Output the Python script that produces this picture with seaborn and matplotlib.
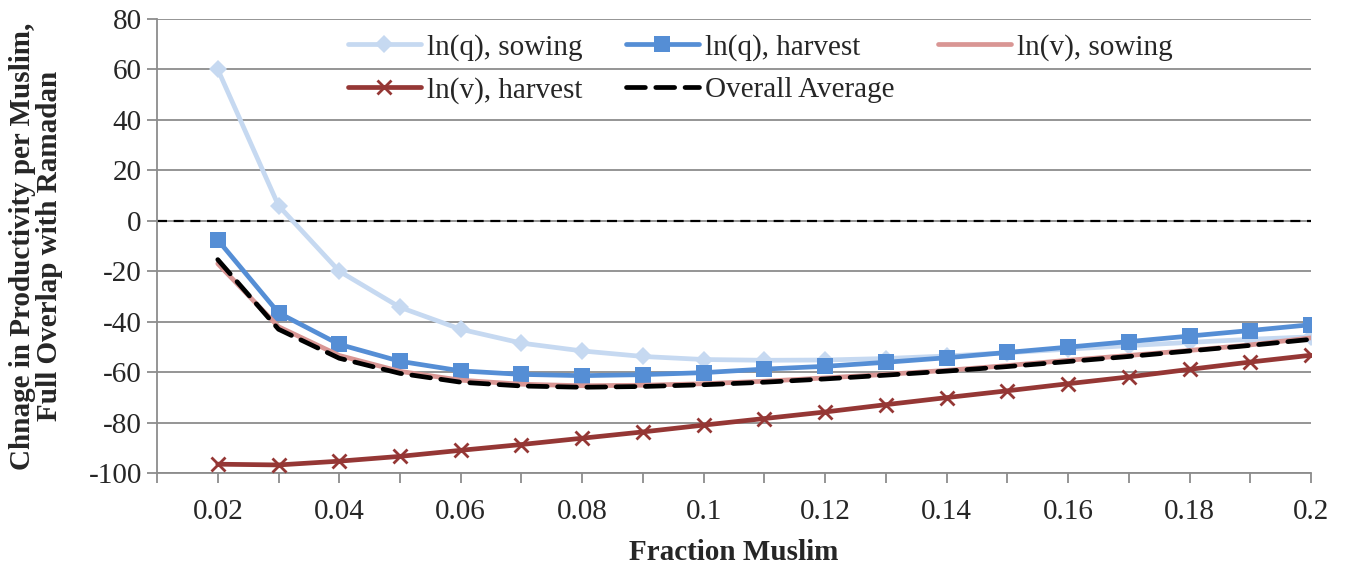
import numpy as np
import pandas as pd
import seaborn as sns
import matplotlib.pyplot as plt

# values
frac_muslim = [0.02, 0.03, 0.04, 0.05, 0.06, 0.07, 0.08, 0.09, 0.10, 0.11,
               0.12, 0.13, 0.14, 0.15, 0.16, 0.17, 0.18, 0.19, 0.20]
lnq_sowing = [60, 6, -20, -34.3, -43, -48.5, -51.6, -53.8, -55, -55.3,
              -55.2, -54.6, -53.6, -52.3, -50.9, -49.5, -48.2, -47, -46]
lnq_harvest = [-7.6, -36.5, -49, -55.7, -59.5, -60.9, -61.4, -61, -60.2, -58.8,
               -57.7, -56.1, -54.3, -52.2, -50.1, -47.9, -45.7, -43.5, -41.2]
lnv_sowing = [-17, -42, -53.4, -59.7, -63.2, -64.8, -65.4, -65.2, -64.6, -63.6,
              -62.3, -60.9, -59.3, -57.4, -55.3, -53.4, -51.4, -49.2, -46.4]
lnv_harvest = [-96.5, -96.8, -95.3, -93.4, -91, -88.7, -86.2, -83.7, -81, -78.4,
               -75.8, -72.9, -70.1, -67.4, -64.6, -61.9, -58.9, -56, -53.3]
overall_avg = [-15.4, -43, -54.5, -60.5, -64, -65.5, -66, -65.7, -65, -64,
               -62.7, -61.2, -59.6, -57.8, -55.8, -53.8, -51.6, -49.4, -47]

sns.set_style("white")
plt.rcParams['font.family'] = ['Liberation Serif', 'DejaVu Serif']
plt.rcParams['axes.unicode_minus'] = False

fig = plt.figure(figsize=(13.48, 5.65), dpi=100)
ax = fig.add_axes([0.1165, 0.1628, 0.8561, 0.8036])

# zero reference line
ax.axhline(0, color='black', lw=1.6, dashes=(4.5, 3), zorder=1)

series = [
    ("ln(q), sowing", lnq_sowing, '#C6D9F1', 'D', 9),
    ("ln(q), harvest", lnq_harvest, '#558ED5', 's', 11),
    ("ln(v), sowing", lnv_sowing, '#D99694', None, 0),
    ("ln(v), harvest", lnv_harvest, '#953735', 'x', 10),
]
for name, vals, col, mk, ms in series:
    sns.lineplot(x=frac_muslim, y=vals, ax=ax, color=col, lw=3.4,
                 marker=mk, markersize=ms, markeredgewidth=2 if mk == 'x' else 0,
                 markeredgecolor=col, label=name, zorder=3)

sns.lineplot(x=frac_muslim, y=overall_avg, ax=ax, color='black', lw=3.4,
             dashes=False, label="Overall Average", zorder=4)
ax.lines[-1].set_dashes((4, 2.2))
ax.lines[-1].set_dash_capstyle('round')

ax.set_xlim(0.01, 0.2)
ax.set_ylim(-100, 80)
ax.set_yticks(np.arange(-100, 81, 20))
ax.set_xticks(np.arange(0.02, 0.201, 0.02))
ax.set_xticklabels(['0.02', '0.04', '0.06', '0.08', '0.1', '0.12', '0.14',
                    '0.16', '0.18', '0.2'])
ax.set_xticks(np.arange(0.01, 0.201, 0.01), minor=True)
ax.grid(axis='y', color='#8C8C8C', lw=1.3)
ax.grid(axis='x', visible=False)
ax.tick_params(axis='x', which='both', direction='out', length=7, width=1.3,
               color='#8C8C8C', labelsize=21, pad=12, bottom=True)
ax.tick_params(axis='y', direction='out', length=7, width=1.3,
               color='#8C8C8C', labelsize=21, left=True, pad=4)
for s in ['top', 'right']:
    ax.spines[s].set_visible(False)
for s in ['left', 'bottom']:
    ax.spines[s].set_color('#8C8C8C')
    ax.spines[s].set_linewidth(1.3)

ax.set_xlabel('Fraction Muslim', fontsize=21, fontweight='bold', labelpad=10)
ax.set_ylabel('Chnage in Productivity per Muslim,\nFull Overlap with Ramadan',
              fontsize=21, fontweight='bold', labelpad=18, linespacing=1.0)

# reorder so the column-major legend reads row by row like the original
h, l = ax.get_legend_handles_labels()
order = [0, 3, 1, 4, 2]
ax.legend([h[i] for i in order], [l[i] for i in order],
          loc='upper center', bbox_to_anchor=(0.5225, 1.012), ncol=3,
          frameon=False, fontsize=21, handlelength=2.5, handletextpad=0.2,
          columnspacing=1.5, labelspacing=0.55, borderpad=0.2)

plt.savefig('out.png', dpi=100)
